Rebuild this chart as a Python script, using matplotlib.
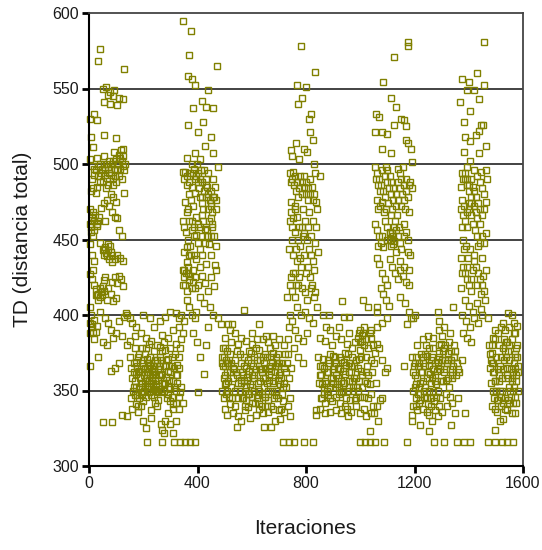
import matplotlib
matplotlib.use("Agg")
import matplotlib.pyplot as plt
import numpy as np

# puntos (iteracion, TD), por fases
alta_1 = [(41,576),(34,568),(128,563),(51,550),(64,551),(92,549),(77,548),(54,541),(77,540),(105,539),(124,543),(110,544),(88,545),(70,546),(5,530),(19,533),(28,529),(9,518),(54,519),(98,517),(15,511),
    (5,503),(28,504),(54,505),(92,508),(117,509),(124,510),(110,506),(100,503),(85,500),(70,498),(60,496),(45,494),(35,492),(20,497),(10,499),(75,502),(95,497),(105,500),(115,497),(125,499),(130,496),(65,491),(50,489),(40,488),(80,493),(90,491),(112,492),(120,490),(55,500),(30,485),(15,484),(8,482),(25,481),(62,484),(100,488),(128,481),(70,486),(88,486),
    (5,470),(12,465),(20,462),(28,459),(35,462),(45,471),(55,474),(65,476),(75,472),(85,468),(95,465),(105,464),(110,456),(120,452),(18,456),(8,458),(38,465),(60,462),(80,480),(90,478),(100,475),
    (3,447),(40,448),(50,443),(55,440),(60,445),(65,439),(70,447),(75,437),(80,442),(85,435),(95,437),(105,440),(115,438),(125,436),(20,436),(10,440),
    (5,427),(12,424),(20,420),(25,417),(30,413),(35,414),(40,412),(45,415),(50,419),(55,423),(60,425),(70,418),(80,414),(85,422),(95,425),(105,421),(110,426),(118,424),(125,419),(15,430),(65,410),(90,409),(100,411),
    (3,395),(8,400),(12,392),(18,397),(24,389),(30,393),(2,405),(40,402),(60,398),(70,395),(80,390),(90,385),(100,388),(110,396),(120,386),(130,399),(135,401),(140,400),(20,384),(50,382),(65,380),
    (5,366),(34,372),(80,363),(95,365),(110,368)]
densa_a1 = [(10,490),(18,493),(26,496),(32,499),(42,500),(48,497),(58,493),(66,500),(72,494),(82,497),(88,502),(96,492),(102,496),(108,500),(114,504),(120,502),(126,505),(132,500),
    (5,460),(10,463),(15,468),(22,466),(30,460),(6,455),(14,452),(55,444),(62,441),(70,443),(78,446),(86,440),(25,413),(32,410),(40,418),(48,413),(55,416),(10,394),(15,389),(4,388)]

baja_1 = [(150,398),(160,395),(175,392),(200,400),(225,398),(240,392),(260,396),(280,399),(300,402),(320,401),(330,398),
    (140,380),(150,372),(155,365),(160,358),(165,352),(170,347),(175,341),(180,336),(185,345),(190,355),(195,362),(200,368),(205,374),(210,378),(215,371),(220,365),(225,360),(230,355),(235,350),(240,346),(245,342),(250,350),(255,357),(260,364),(265,370),(270,376),(275,382),(280,377),(285,370),(290,363),(295,357),(300,351),(305,346),(310,341),(315,352),(320,360),(325,367),(330,372),(335,378),(340,384),
    (155,345),(165,362),(175,369),(185,374),(195,348),(205,353),(215,358),(225,372),(235,366),(245,361),(255,344),(265,349),(275,354),(285,359),(295,366),(305,372),(315,365),(325,355),(335,349),(170,378),(180,362),(190,340),(200,343),(210,346),(220,349),(230,337),(240,362),(250,368),(260,372),(270,361),(280,355),(290,348),(300,343),(310,338),(320,342),(330,346),(340,352),
    (140,333),(160,338),(180,340),(200,330),(210,325),(230,332),(250,340),(265,328),(270,324),(275,322),(280,330),(290,335),(300,328),(310,322),(320,330),(330,338),(345,342),(52,329),(86,329),(120,334),
    (213,316),(270,316),(315,316),(334,316),(353,316),(372,316),(392,316),
    (150,383),(170,386),(190,388),(210,385),(230,383),(250,380),(270,387),(290,385),(310,390),(330,392),(345,388),(320,381),(300,378),(260,379),(240,376),(220,381),(195,378)]
densa_b1 = [(162,350),(168,356),(172,361),(178,366),(183,352),(188,358),(193,364),(198,370),(203,350),(208,356),(213,362),(218,368),(223,352),(228,347),(233,358),(238,364),(243,370),(248,354),(253,349),(258,360),(263,366),(268,355),
    (166,368),(176,347),(186,363),(196,355),(206,365),(216,351),(226,366),(236,355),(246,350),(256,364),(266,360),(182,372),(202,360),(222,357),(242,356),(262,351),(172,352),(192,349),(212,353),(232,363),(252,370),
    (280,366),(290,371),(300,362),(310,356),(320,350),(330,365),(296,352),(306,366),(316,374),(326,360),(286,345),(276,350)]

alta_2 = [(347,595),(376,588),(370,572),(471,565),(366,558),(379,556),(392,552),(437,549),(385,537),(415,542),(430,538),(456,537),(366,526),(421,528),(402,521),(449,518),(428,512),(360,504),(392,507),(411,503),(456,507),
    (345,495),(352,490),(360,486),(368,480),(375,476),(382,472),(388,497),(395,492),(400,488),(405,484),(410,478),(415,474),(420,470),(425,496),(430,490),(435,485),(440,480),(445,476),(450,472),(455,468),(460,478),(465,485),(470,470),(475,498),(355,475),(365,470),(378,485),(398,500),(418,488),(438,494),(448,482),(458,490),(468,476),(372,494),(392,481),(412,496),(432,478),(452,460),
    (345,462),(350,458),(358,455),(365,450),(372,446),(380,462),(388,458),(395,453),(402,448),(408,444),(415,466),(422,462),(428,457),(435,452),(442,447),(448,464),(455,458),(462,452),(470,446),(375,440),(395,437),(415,440),(430,434),(450,440),(465,433),(360,435),(352,442),
    (345,430),(350,425),(355,420),(360,416),(365,428),(370,423),(378,418),(385,430),(392,425),(400,420),(408,432),(418,426),(428,421),(440,416),(450,425),(460,419),(470,430),(362,410),(370,405),(380,400),(395,402),(410,412),(425,408),(445,405),(458,400),(475,398),(340,400),(352,396),(390,398),(398,382),(411,372),(402,349),(424,361),(430,380),(385,388),(440,392)]
densa_a2 = [(355,495),(362,492),(370,488),(378,500),(385,494),(392,490),(400,494),(408,490),(416,478),(424,482),(432,486),(440,470),(448,474),(456,478),
    (362,468),(370,462),(378,456),(386,452),(394,465),(402,460),(410,458),(418,452),(426,448),(434,456),(442,462),(450,452),
    (358,428),(366,432),(374,426),(382,422),(390,418),(352,430),(348,420),(362,445),(370,440),(386,440)]

baja_2 = [(487,394),(513,394),(526,394),(570,403),(602,388),(628,394),(653,386),(545,326),(647,326),(672,326),(685,330),(704,331),
    (490,372),(495,366),(500,360),(505,355),(510,350),(515,346),(520,341),(525,352),(530,358),(535,364),(540,370),(545,376),(550,381),(555,374),(560,368),(565,362),(570,356),(575,350),(580,344),(585,339),(590,348),(595,354),(600,360),(605,366),(610,372),(615,378),(620,384),(625,377),(630,370),(635,364),(640,358),(645,352),(650,346),(655,340),(660,350),(665,357),(670,363),(675,369),(680,375),(685,380),(690,372),(695,366),(700,360),(705,354),(710,348),(715,343),(720,355),(725,362),(730,368),(735,374),
    (492,350),(498,345),(508,368),(518,374),(528,345),(538,340),(548,355),(558,350),(568,345),(578,365),(588,370),(598,375),(608,350),(618,345),(628,341),(638,348),(648,365),(658,372),(668,378),(678,355),(688,350),(698,345),(708,338),(718,365),(728,352),(738,358),(502,378),(522,382),(542,362),(562,357),(582,359),(602,342),(622,355),(642,372),(662,365),(682,345),(702,368),(722,374),(742,345),
    (500,338),(510,334),(530,335),(550,333),(560,330),(575,337),(595,332),(615,334),(625,338),(640,335),(660,336),(680,338),(700,337),(720,336),(735,340),(740,333),
    (500,385),(520,390),(540,388),(560,385),(580,383),(600,381),(640,384),(660,382),(680,386),(700,384),(720,380),(735,384),
    (717,316),(736,316),(755,316),(794,316),(826,316)]
densa_b2 = [(492,368),(496,372),(500,366),(504,370),(508,362),(512,368),(496,358),(502,354),(506,348),(514,356),(518,362),(522,368),(494,378),(510,376),
    (560,355),(566,360),(572,366),(578,352),(584,357),(590,363),(596,368),(602,352),(608,358),(614,364),(620,370),(626,350),(632,356),(638,362),(644,368),(650,374),(656,355),(662,360),(668,366),(674,350),(680,356),(686,362),(692,368),(698,357),(704,362),(710,368),(716,352),
    (564,345),(576,340),(588,348),(600,346),(612,342),(624,347),(636,340),(648,346),(660,344),(672,340),(684,366),(696,374),(708,358),(570,372),(590,376),(610,360),(630,364),(650,358),(670,372),(690,347),(540,350),(550,345),(530,365),(545,360)]

alta_3 = [(781,578),(832,561),(787,544),(768,552),(800,551),(771,540),(820,533),(810,530),(814,521),(826,516),(743,509),(762,514),(794,510),(750,505),(775,503),(805,508),(830,500),
    (740,494),(748,490),(755,486),(762,482),(770,478),(778,492),(785,488),(792,485),(800,480),(808,476),(815,490),(822,485),(830,480),(838,475),(851,492),(832,494),(758,472),(745,475),(790,470),(812,468),(825,462),(840,470),(768,465),(798,462),
    (742,462),(750,458),(760,455),(770,450),(778,446),(786,458),(794,454),(802,450),(810,444),(818,440),(826,436),(835,448),(845,442),(736,444),(752,440),(768,436),(782,432),(800,428),(815,425),(830,430),(760,428),(745,425),
    (742,420),(750,416),(758,412),(770,420),(785,418),(795,415),(805,410),(818,418),(830,412),(840,405),(730,412),(765,405),(780,400),(795,402),(812,398),(825,395),(740,400),(750,396),(738,392),(760,390),(772,385),(788,383),(805,388),(755,378),(770,372),(790,368),(745,365)]
densa_a3 = [(745,488),(752,495),(760,492),(768,488),(776,484),(784,480),(792,492),(800,488),(808,484),(816,480),(824,476),(744,468),(752,464),(760,470),(776,458),(790,452),(806,458),(820,452),(838,458),
    (748,450),(762,444),(778,438),(792,440),(808,432),(822,420),(834,415),(752,428),(764,420),(776,425)]

baja_3 = [(864,400),(883,400),(934,409),(941,399),(960,399),(1011,410),(1030,405),(1062,405),(838,337),(838,334),(953,333),(1023,333),(1036,323),(1049,335),(1074,344),
    (845,372),(850,366),(855,360),(860,354),(865,348),(870,342),(875,355),(880,362),(885,368),(890,374),(895,380),(900,373),(905,366),(910,360),(915,354),(920,348),(925,342),(930,356),(935,363),(940,369),(945,375),(950,381),(955,374),(960,368),(965,362),(970,356),(975,350),(980,344),(985,358),(990,365),(995,371),(1000,377),(1005,383),(1010,388),(1015,380),(1020,372),(1025,366),(1030,360),(1035,354),(1040,348),(1045,362),(1050,368),(1055,375),(1060,381),
    (848,355),(858,345),(868,365),(878,350),(888,345),(898,358),(908,372),(918,365),(928,370),(938,350),(948,345),(958,356),(968,372),(978,366),(988,352),(998,346),(1008,360),(1018,356),(1028,345),(1038,370),(1048,340),(1058,355),(995,388),(1000,390),(1005,387),(990,385),(1012,392),(980,382),(970,378),
    (850,338),(870,335),(890,336),(910,337),(930,335),(950,338),(965,336),(985,340),(1000,335),(1015,338),(1040,335),(1060,340),(1065,330),(1080,345),
    (850,385),(870,383),(890,390),(910,386),(930,384),(960,388),(1040,390),(1060,392),(1070,378),(1080,370),(1090,362),(1100,365),(875,392),(920,392),
    (998,316),(1017,316),(1036,316),(1055,316),(1087,316)]
densa_b3 = [(852,360),(858,366),(864,371),(870,356),(876,362),(882,347),(888,352),(894,358),(900,364),(906,352),(912,346),(918,358),(924,364),(930,349),(936,355),(942,361),(948,367),(954,350),(960,362),(966,366),(972,352),(978,358),(984,345),(990,350),(996,356),(1002,363),(1008,352),(1014,346),(1020,362),(1026,355),
    (856,345),(866,352),(880,370),(896,343),(910,368),(926,372),(944,340),(962,344),(986,370),(1004,372),(1030,378),(1040,385),(1046,380),(1020,384),(1035,388),(1000,382),(960,352),(940,355),(920,352),(900,355)]

alta_4 = [(1125,571),(1177,581),(1177,578),(1085,554),(1113,544),(1133,538),(1059,533),(1068,531),(1125,526),(1151,530),(1161,529),(1170,525),(1055,521),(1081,521),(1098,520),(1170,516),(1177,514),(1081,510),(1113,507),(1187,510),(1189,501),
    (1055,498),(1062,494),(1070,490),(1078,486),(1085,482),(1092,478),(1100,496),(1108,492),(1115,488),(1122,484),(1130,480),(1138,476),(1145,494),(1152,490),(1160,486),(1168,482),(1175,478),(1185,488),(1060,476),(1072,472),(1088,468),(1102,474),(1118,470),(1135,466),(1150,472),(1165,470),(1180,468),(1190,484),(1095,498),(1140,497),(1158,498),
    (1055,460),(1062,456),(1070,452),(1078,448),(1085,445),(1092,462),(1100,458),(1108,454),(1115,450),(1122,447),(1130,456),(1138,452),(1145,448),(1152,444),(1160,460),(1168,455),(1175,442),(1185,440),(1110,455),(1120,452),(1125,449),
    (1060,438),(1070,434),(1080,428),(1090,424),(1098,420),(1108,437),(1118,432),(1128,428),(1138,424),(1148,430),(1158,426),(1168,422),(1178,420),(1075,418),(1085,414),(1095,410),(1105,406),(1100,398),(1145,412),(1165,408),(1180,402),(1172,394),(1188,398),(1080,395),(1060,402),(1160,366),(1195,398)]
densa_a4 = [(1058,490),(1066,486),(1074,482),(1082,496),(1090,492),(1098,488),(1106,484),(1114,480),(1122,476),(1130,472),(1138,488),(1146,484),(1154,480),(1162,476),(1170,490),(1178,486),
    (1065,470),(1080,475),(1096,470),(1112,466),(1128,462),(1144,458),(1160,452),(1176,450),(1066,446),(1082,452),(1098,450),(1114,446),(1130,442),(1146,436),(1162,432),(1178,430),(1108,450),(1116,454),(1124,458)]

baja_4 = [(1202,400),(1285,402),(1342,405),(1291,396),(1221,327),(1253,323),(1266,330),(1253,334),(1285,333),(1336,327),(1349,335),(1387,335),(1189,330),(1189,334),
    (1192,372),(1197,366),(1202,360),(1207,354),(1212,348),(1217,342),(1222,355),(1227,362),(1232,368),(1237,374),(1242,380),(1247,373),(1252,367),(1257,361),(1262,355),(1267,349),(1272,343),(1277,356),(1282,363),(1287,369),(1292,375),(1297,381),(1302,386),(1307,378),(1312,370),(1317,364),(1322,358),(1327,352),(1332,346),(1337,360),(1342,366),(1347,372),(1352,360),(1360,364),
    (1195,350),(1205,345),(1215,368),(1225,374),(1235,350),(1245,345),(1255,378),(1265,372),(1275,368),(1285,350),(1295,345),(1305,356),(1315,348),(1325,370),(1335,376),(1345,380),(1210,380),(1230,384),(1250,386),(1270,385),(1290,390),(1310,392),(1330,388),(1355,368),(1365,362),(1375,370),
    (1195,340),(1210,337),(1230,338),(1245,336),(1260,340),(1275,337),(1290,340),(1300,336),(1320,340),(1340,342),(1360,345),
    (1171,316),(1272,316),(1310,316),(1355,316),(1381,316),(1404,316)]
densa_b4 = [(1195,362),(1200,368),(1205,372),(1210,358),(1215,352),(1220,348),(1225,362),(1230,356),(1235,346),(1240,352),(1245,358),(1250,362),(1255,350),(1260,345),(1265,358),(1270,364),(1275,360),(1280,354),(1285,366),(1290,372),(1295,364),(1300,370),(1305,376),(1310,362),(1315,357),(1320,368),(1325,375),(1330,364),(1335,370),(1340,358),
    (1200,352),(1212,366),(1232,372),(1248,341),(1262,370),(1278,346),(1296,356),(1312,380),(1328,382),(1344,372),(1350,376),(1290,380),(1270,378),(1240,366),(1222,344),(1205,340)]

alta_5 = [(1457,581),(1432,560),(1374,556),(1400,554),(1457,552),(1393,549),(1419,549),(1368,541),(1438,543),(1406,535),(1381,528),(1444,526),(1451,526),(1438,522),(1425,519),(1387,518),(1406,515),(1464,512),(1381,508),(1438,507),(1406,502),
    (1375,494),(1385,490),(1392,486),(1400,482),(1410,478),(1420,496),(1430,492),(1440,488),(1448,484),(1455,480),(1462,496),(1468,490),(1372,485),(1395,498),(1415,485),(1445,495),(1465,475),
    (1372,470),(1380,466),(1388,462),(1395,458),(1402,470),(1410,474),(1418,472),(1425,468),(1432,464),(1440,460),(1448,452),(1455,448),(1462,454),(1378,450),(1390,446),(1405,444),(1420,440),(1435,446),(1450,438),(1465,430),
    (1370,438),(1378,432),(1386,428),(1394,424),(1402,420),(1410,416),(1418,436),(1426,432),(1434,428),(1442,424),(1450,420),(1458,416),(1372,418),(1385,410),(1400,406),(1415,402),(1430,408),(1445,404),(1460,410),(1375,400),(1390,396),(1405,392),(1420,398),(1435,395),(1450,400),(1470,398),(1380,388),(1395,385),(1410,382)]
densa_a5 = [(1378,490),(1386,494),(1394,490),(1402,486),(1410,490),(1418,482),(1426,478),(1434,474),(1442,470),(1450,466),(1458,470),(1376,476),(1384,472),(1392,468),(1400,474),(1408,466),(1416,460),(1424,456),(1432,452),(1440,448),
    (1374,458),(1382,444),(1398,438),(1414,430),(1430,420),(1446,414),(1454,426),(1376,428),(1392,432),(1408,424)]

baja_5 = [(1559,400),(1545,401),(1495,324),(1515,330),(1527,331),(1559,335),(1540,337),(1572,335),
    (1475,380),(1480,374),(1485,368),(1490,362),(1495,356),(1500,350),(1505,344),(1510,360),(1515,366),(1520,372),(1525,378),(1530,384),(1535,390),(1540,382),(1545,376),(1550,370),(1555,364),(1560,358),(1565,352),(1570,346),(1575,356),(1580,362),(1572,372),(1578,380),(1568,388),(1550,392),(1482,355),(1492,345),(1502,372),(1512,380),(1522,350),(1532,345),(1542,360),(1552,350),(1562,342),(1572,365),(1580,350),(1488,385),(1498,390),(1508,388),(1518,392),(1528,395),(1478,365),(1485,340),(1495,338),(1505,336),(1520,340),(1535,338),(1548,342),(1575,342),(1578,393),(1565,395),(1538,372),
    (1470,316),(1495,316),(1521,316),(1540,316),(1562,316)]
densa_b5 = [(1482,370),(1486,375),(1490,368),(1494,362),(1498,356),(1502,350),(1506,364),(1510,356),(1514,350),(1518,346),(1522,358),(1526,364),(1530,370),(1534,376),(1538,382),(1542,365),(1546,358),(1550,352),(1554,346),(1558,356),(1562,362),(1566,368),(1570,374),(1574,378),(1578,372),
    (1484,380),(1496,384),(1548,380),(1560,384),(1572,388),(1490,350),(1506,344),(1526,342),(1544,344),(1564,350),(1576,360),(1580,366)]

fases = [alta_1, densa_a1, baja_1, densa_b1, alta_2, densa_a2, baja_2, densa_b2,
         alta_3, densa_a3, baja_3, densa_b3, alta_4, densa_a4, baja_4, densa_b4,
         alta_5, densa_a5, baja_5, densa_b5]
puntos = np.array([p for f in fases for p in f], dtype=float)

x_ticks = [0, 400, 800, 1200, 1600]
y_ticks = [300, 350, 400, 450, 500, 550, 600]
oliva = "#808000"

plt.rcParams['font.family'] = ['Liberation Sans', 'DejaVu Sans']

fig = plt.figure(figsize=(5.42, 5.50), dpi=100)
ax = fig.add_axes([89/542, 1 - 466/550, 434/542, 453/550])

# lineas horizontales de referencia
for yv in y_ticks[1:-1]:
    ax.axhline(yv, color="#222222", lw=1.2, zorder=1)

ax.plot(puntos[:, 0], puntos[:, 1], ls="none", marker="s", ms=3.8, mew=1.0,
        mfc="none", mec=oliva, zorder=2, clip_on=False)

ax.set_xlim(0, 1600)
ax.set_ylim(300, 600)
ax.set_xticks(x_ticks)
ax.set_yticks(y_ticks)
ax.tick_params(axis="both", direction="out", length=5, width=2, color="black",
               labelsize=11.5, labelcolor="#1a1a1a", pad=2)

for s in ["left", "bottom"]:
    ax.spines[s].set_linewidth(1.5)
    ax.spines[s].set_color("black")
for s in ["top", "right"]:
    ax.spines[s].set_linewidth(1.3)
    ax.spines[s].set_color("#444444")

fig.text(0.042, (1 - 239.5/550), "TD (distancia total)", rotation=90, ha="center", va="center",
         fontsize=15, color="#1a1a1a")
fig.text(305/542, 1 - 528/550, "Iteraciones", ha="center", va="center",
         fontsize=15, color="#1a1a1a")

fig.savefig("out.png", dpi=100)
